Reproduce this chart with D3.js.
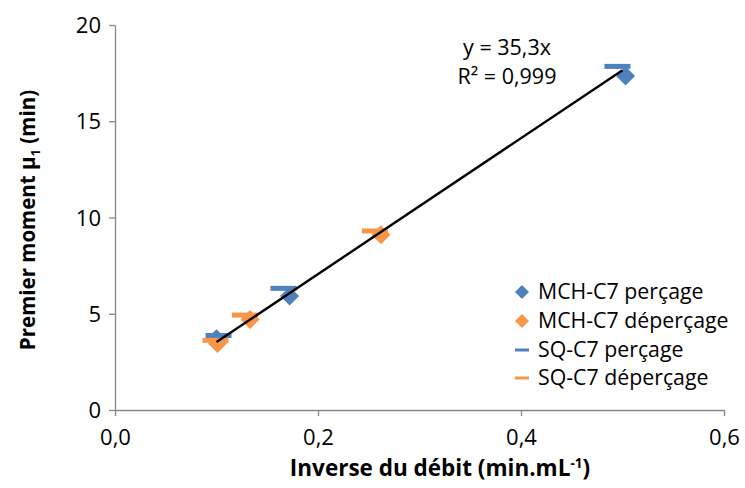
<!DOCTYPE html>
<html>
<head>
<meta charset="utf-8">
<script src="https://cdn.jsdelivr.net/npm/d3@7"></script>
<style>
  html, body { margin: 0; padding: 0; background: #fff; }
  svg { display: block; font-family: "Open Sans", sans-serif; }
</style>
</head>
<body>
<svg id="chart" width="745" height="488"></svg>
<script>
// Series: first moment vs inverse flow rate
const mchPercX = [0.100, 0.172, 0.503];
const mchPercY = [3.70, 5.92, 17.35];
const mchDepX  = [0.101, 0.133, 0.262];
const mchDepY  = [3.45, 4.70, 9.10];
const sqPercX  = [0.102, 0.166, 0.495];
const sqPercY  = [3.87, 6.32, 17.85];
const sqDepX   = [0.099, 0.128, 0.256];
const sqDepY   = [3.62, 4.93, 9.30];

// Linear fit through the origin
const fitSlope = 35.3;
const fitR2 = "0,999";
const fitRange = [0.1, 0.5];

const xTicks = [0, 0.2, 0.4, 0.6];
const yTicks = [0, 5, 10, 15, 20];

const seriesNames = ["MCH-C7 perçage", "MCH-C7 déperçage", "SQ-C7 perçage", "SQ-C7 déperçage"];

const BLUE = "#4F81BD", ORANGE = "#F79646", AXIS = "#868686";

const svg = d3.select("#chart");
const x = d3.scaleLinear().domain([0, 0.6]).range([115, 724]);
const y = d3.scaleLinear().domain([0, 20]).range([410, 25]);

const fmtX = v => d3.format(".1f")(v).replace(".", ",");

// Axes
const xAxis = svg.append("g").attr("transform", `translate(0,${y(0)})`)
  .call(d3.axisBottom(x).tickValues(xTicks).tickSize(6).tickSizeOuter(0).tickFormat(fmtX));
const yAxis = svg.append("g").attr("transform", `translate(${x(0)},0)`)
  .call(d3.axisLeft(y).tickValues(yTicks).tickSize(6).tickSizeOuter(0).tickFormat(d3.format("d")));

[xAxis, yAxis].forEach(g => {
  g.select(".domain").attr("stroke", AXIS).attr("stroke-width", 1.3);
  g.selectAll(".tick line").attr("stroke", AXIS).attr("stroke-width", 1.3);
  g.selectAll(".tick text").attr("fill", "#000").style("font-size", "22px")
    .style("font-family", "'Open Sans', sans-serif");
});
xAxis.selectAll(".tick text").attr("dy", "1.2em");
yAxis.selectAll(".tick text").attr("x", -14).attr("dy", "0.35em");

// Marker helpers
const diamond = (cx, cy, r) => `M${cx},${cy - r}L${cx + r},${cy}L${cx},${cy + r}L${cx - r},${cy}Z`;

function drawDiamonds(xs, ys, color) {
  svg.append("g").selectAll("path").data(xs.map((v, i) => [v, ys[i]])).join("path")
    .attr("d", d => diamond(x(d[0]), y(d[1]), 9.5))
    .attr("fill", color);
}
function drawDashes(xs, ys, color) {
  svg.append("g").selectAll("rect").data(xs.map((v, i) => [v, ys[i]])).join("rect")
    .attr("x", d => x(d[0]) - 13).attr("y", d => y(d[1]) - 2.5)
    .attr("width", 26).attr("height", 5)
    .attr("fill", color);
}

drawDiamonds(mchPercX, mchPercY, BLUE);
drawDiamonds(mchDepX, mchDepY, ORANGE);
drawDashes(sqPercX, sqPercY, BLUE);
drawDashes(sqDepX, sqDepY, ORANGE);

// Trend line
svg.append("line")
  .attr("x1", x(fitRange[0])).attr("y1", y(fitSlope * fitRange[0]))
  .attr("x2", x(fitRange[1])).attr("y2", y(fitSlope * fitRange[1]))
  .attr("stroke", "#000").attr("stroke-width", 2.4);

// Equation label
const eq = svg.append("text").attr("text-anchor", "middle").style("font-size", "21.5px");
eq.append("tspan").attr("x", 507).attr("y", 55).text("y = " + String(fitSlope).replace(".", ",") + "x");
eq.append("tspan").attr("x", 507).attr("y", 84).text("R² = " + fitR2);

// Axis titles
const xt = svg.append("text").attr("x", 440).attr("y", 476).attr("text-anchor", "middle")
  .style("font-size", "22.5px").style("font-weight", "bold");
xt.append("tspan").text("Inverse du débit (min.mL");
xt.append("tspan").attr("dy", -8).style("font-size", "13.5px").text("-1");
xt.append("tspan").attr("dy", 8).text(")");

const yt = svg.append("text").attr("transform", "translate(35,220) rotate(-90)")
  .attr("text-anchor", "middle").style("font-size", "20.5px").style("font-weight", "bold");
yt.append("tspan").text("Premier moment μ");
yt.append("tspan").attr("dy", 5).style("font-size", "13px").text("1");
yt.append("tspan").attr("dy", -5).text(" (min)");

// Legend
const legend = svg.append("g");
const legendRows = [292, 321, 350, 378];
const legendKinds = [["diamond", BLUE], ["diamond", ORANGE], ["dash", BLUE], ["dash", ORANGE]];
seriesNames.forEach((name, i) => {
  const cy = legendRows[i];
  const [kind, color] = legendKinds[i];
  if (kind === "diamond") {
    legend.append("path").attr("d", diamond(522, cy, 7)).attr("fill", color);
  } else {
    legend.append("rect").attr("x", 515).attr("y", cy - 1.5).attr("width", 14).attr("height", 3).attr("fill", color);
  }
  legend.append("text").attr("x", 538).attr("y", cy).attr("dy", "0.35em")
    .style("font-size", "21.3px").text(name);
});
</script>
</body>
</html>
